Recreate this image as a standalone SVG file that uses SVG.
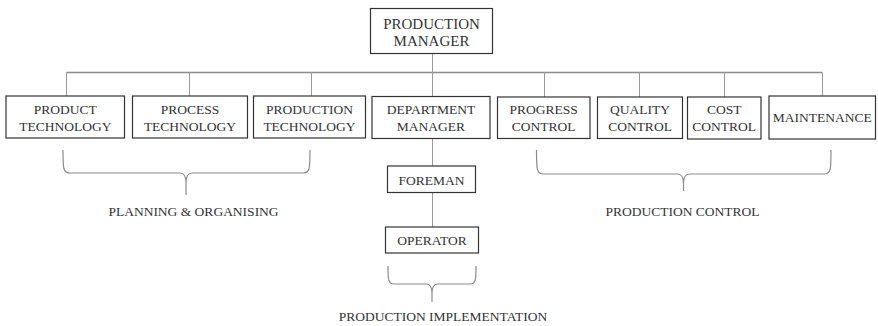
<svg xmlns="http://www.w3.org/2000/svg" width="878" height="326" viewBox="0 0 878 326">
  <style>
    .box { fill: #ffffff; stroke: #333333; stroke-width: 1.2; }
    .lbl { font-family: "Liberation Serif", "Times New Roman", serif; font-size: 13.5px; fill: #333333; text-anchor: middle; }
    .big { font-size: 15px; }
    .bus { fill: none; stroke: #8c8c8c; stroke-width: 1.6; }
    .drop { fill: none; stroke: #9a9a9a; stroke-width: 1; }
    .brace { fill: none; stroke: #8c8c8c; stroke-width: 1.2; }
  </style>
  <rect width="878" height="326" fill="#ffffff"/>

  <!-- connectors -->
  <g id="connectors">
    <line class="bus" x1="66.5" y1="72.5" x2="822.5" y2="72.5"/>
    <line class="drop" x1="432.5" y1="53" x2="432.5" y2="96"/>
    <line class="drop" x1="66.5" y1="72.5" x2="66.5" y2="96"/>
    <line class="drop" x1="189.5" y1="72.5" x2="189.5" y2="96"/>
    <line class="drop" x1="311.5" y1="72.5" x2="311.5" y2="96"/>
    <line class="drop" x1="544.5" y1="72.5" x2="544.5" y2="97"/>
    <line class="drop" x1="639.5" y1="72.5" x2="639.5" y2="97"/>
    <line class="drop" x1="724.5" y1="72.5" x2="724.5" y2="97"/>
    <line class="drop" x1="822.5" y1="72.5" x2="822.5" y2="96"/>
    <line class="drop" x1="432.5" y1="138" x2="432.5" y2="166"/>
    <line class="drop" x1="432.5" y1="192" x2="432.5" y2="227"/>
  </g>

  <!-- group braces -->
  <g id="braces">
    <path class="brace" d="M63,150 C63,168 63,173 70,173 H180 C184,173 186,176 186,183 V195 M310,150 C310,168 310,173 303,173 H192 C188,173 186,176 186,183"/>
    <path class="brace" d="M536.5,150 C536.5,169 536.5,174 543.5,174 H677.5 C681.5,174 683.5,177 683.5,184 V191 M831,150 C831,169 831,174 824,174 H689.5 C685.5,174 683.5,177 683.5,184"/>
    <path class="brace" d="M388,266 C388,279 388,284 394,284 H426 C430,284 432,287 432,293 V302 M476,266 C476,279 476,284 470,284 H438 C434,284 432,287 432,293"/>
  </g>

  <g id="production-manager">
    <rect class="box" x="370.5" y="8.5" width="122" height="45"/>
    <text class="lbl big" x="431.5" y="28.5">PRODUCTION</text>
    <text class="lbl big" x="431.5" y="45.5">MANAGER</text>
  </g>

  <g id="product-technology">
    <rect class="box" x="6" y="96" width="118.5" height="42"/>
    <text class="lbl" x="65.3" y="113.5">PRODUCT</text>
    <text class="lbl" x="65.3" y="130.5">TECHNOLOGY</text>
  </g>

  <g id="process-technology">
    <rect class="box" x="132.5" y="96" width="115" height="42"/>
    <text class="lbl" x="190" y="113.5">PROCESS</text>
    <text class="lbl" x="190" y="130.5">TECHNOLOGY</text>
  </g>

  <g id="production-technology">
    <rect class="box" x="253.5" y="96" width="112" height="42"/>
    <text class="lbl" x="309.5" y="113.5">PRODUCTION</text>
    <text class="lbl" x="309.5" y="130.5">TECHNOLOGY</text>
  </g>

  <g id="department-manager">
    <rect class="box" x="372" y="96.5" width="118" height="42"/>
    <text class="lbl" x="431" y="113.5">DEPARTMENT</text>
    <text class="lbl" x="431" y="130.5">MANAGER</text>
  </g>

  <g id="progress-control">
    <rect class="box" x="497.5" y="97" width="92.5" height="41.5"/>
    <text class="lbl" x="543.7" y="114">PROGRESS</text>
    <text class="lbl" x="543.7" y="131">CONTROL</text>
  </g>

  <g id="quality-control">
    <rect class="box" x="597.5" y="97" width="85" height="41.5"/>
    <text class="lbl" x="640" y="114">QUALITY</text>
    <text class="lbl" x="640" y="131">CONTROL</text>
  </g>

  <g id="cost-control">
    <rect class="box" x="687.5" y="97" width="73.5" height="42"/>
    <text class="lbl" x="724.2" y="114">COST</text>
    <text class="lbl" x="724.2" y="131">CONTROL</text>
  </g>

  <g id="maintenance">
    <rect class="box" x="769" y="96" width="106.5" height="43"/>
    <text class="lbl" x="822.2" y="122">MAINTENANCE</text>
  </g>

  <g id="foreman">
    <rect class="box" x="387.5" y="166" width="88" height="26.5"/>
    <text class="lbl" x="431.5" y="185">FOREMAN</text>
  </g>

  <g id="operator">
    <rect class="box" x="385.5" y="227" width="93" height="26"/>
    <text class="lbl" x="432" y="244.5">OPERATOR</text>
  </g>

  <g id="group-labels">
    <text class="lbl" x="193.5" y="216">PLANNING &amp; ORGANISING</text>
    <text class="lbl" x="682.5" y="216">PRODUCTION CONTROL</text>
    <text class="lbl" x="443" y="321">PRODUCTION IMPLEMENTATION</text>
  </g>
</svg>
